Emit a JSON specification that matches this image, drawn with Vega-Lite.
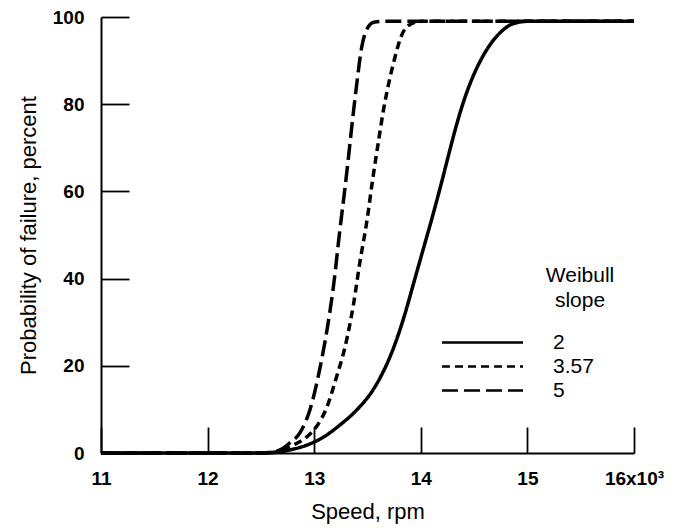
{
  "$schema": "https://vega.github.io/schema/vega-lite/v6.json",
  "width": 533,
  "height": 436,
  "autosize": {"type": "none"},
  "padding": {"left": 101, "top": 17, "right": 42, "bottom": 77},
  "background": "white",
  "config": {
    "view": {"stroke": null},
    "font": "Liberation Sans",
    "axis": {
      "grid": false,
      "domainColor": "black",
      "domainWidth": 2,
      "tickColor": "black",
      "tickWidth": 1.8,
      "labelColor": "black",
      "labelFont": "Liberation Sans",
      "labelFontSize": 19,
      "labelFontWeight": "bold",
      "labelFlush": false,
      "titleColor": "black",
      "titleFont": "Liberation Sans",
      "titleFontSize": 22,
      "titleFontWeight": "normal"
    }
  },
  "data": {
    "values": [
      {"speed": 11.0, "pct": 0, "slope": "2"},
      {"speed": 12.5, "pct": 0, "slope": "2"},
      {"speed": 12.6, "pct": 0.05, "slope": "2"},
      {"speed": 12.77, "pct": 0.7, "slope": "2"},
      {"speed": 12.93, "pct": 1.8, "slope": "2"},
      {"speed": 13.09, "pct": 3.7, "slope": "2"},
      {"speed": 13.24, "pct": 6.4, "slope": "2"},
      {"speed": 13.4, "pct": 9.9, "slope": "2"},
      {"speed": 13.55, "pct": 14.4, "slope": "2"},
      {"speed": 13.63, "pct": 17.8, "slope": "2"},
      {"speed": 13.71, "pct": 22.0, "slope": "2"},
      {"speed": 13.78, "pct": 26.5, "slope": "2"},
      {"speed": 13.85, "pct": 31.8, "slope": "2"},
      {"speed": 13.93, "pct": 38.7, "slope": "2"},
      {"speed": 14.02, "pct": 46.5, "slope": "2"},
      {"speed": 14.11, "pct": 54.3, "slope": "2"},
      {"speed": 14.19, "pct": 61.6, "slope": "2"},
      {"speed": 14.26, "pct": 68.3, "slope": "2"},
      {"speed": 14.33, "pct": 74.8, "slope": "2"},
      {"speed": 14.4, "pct": 80.5, "slope": "2"},
      {"speed": 14.48, "pct": 85.8, "slope": "2"},
      {"speed": 14.56, "pct": 90.0, "slope": "2"},
      {"speed": 14.64, "pct": 93.3, "slope": "2"},
      {"speed": 14.74, "pct": 96.3, "slope": "2"},
      {"speed": 14.87, "pct": 98.5, "slope": "2"},
      {"speed": 15.0, "pct": 99, "slope": "2"},
      {"speed": 16.0, "pct": 99, "slope": "2"},

      {"speed": 11.0, "pct": 0, "slope": "3.57"},
      {"speed": 12.5, "pct": 0, "slope": "3.57"},
      {"speed": 12.6, "pct": 0.1, "slope": "3.57"},
      {"speed": 12.7, "pct": 0.7, "slope": "3.57"},
      {"speed": 12.82, "pct": 2.0, "slope": "3.57"},
      {"speed": 12.93, "pct": 3.7, "slope": "3.57"},
      {"speed": 13.02, "pct": 6.0, "slope": "3.57"},
      {"speed": 13.12, "pct": 10.6, "slope": "3.57"},
      {"speed": 13.21, "pct": 17.5, "slope": "3.57"},
      {"speed": 13.29, "pct": 24.4, "slope": "3.57"},
      {"speed": 13.37, "pct": 34.3, "slope": "3.57"},
      {"speed": 13.43, "pct": 44.0, "slope": "3.57"},
      {"speed": 13.49, "pct": 52.5, "slope": "3.57"},
      {"speed": 13.55, "pct": 63.0, "slope": "3.57"},
      {"speed": 13.6, "pct": 71.0, "slope": "3.57"},
      {"speed": 13.65, "pct": 78.7, "slope": "3.57"},
      {"speed": 13.71, "pct": 86.0, "slope": "3.57"},
      {"speed": 13.76, "pct": 91.0, "slope": "3.57"},
      {"speed": 13.82, "pct": 95.8, "slope": "3.57"},
      {"speed": 13.9, "pct": 98.3, "slope": "3.57"},
      {"speed": 14.0, "pct": 99, "slope": "3.57"},
      {"speed": 16.0, "pct": 99, "slope": "3.57"},

      {"speed": 11.0, "pct": 0, "slope": "5"},
      {"speed": 12.5, "pct": 0, "slope": "5"},
      {"speed": 12.6, "pct": 0.2, "slope": "5"},
      {"speed": 12.7, "pct": 1.0, "slope": "5"},
      {"speed": 12.77, "pct": 2.3, "slope": "5"},
      {"speed": 12.87, "pct": 4.8, "slope": "5"},
      {"speed": 12.96, "pct": 9.9, "slope": "5"},
      {"speed": 13.05, "pct": 19.0, "slope": "5"},
      {"speed": 13.12, "pct": 28.2, "slope": "5"},
      {"speed": 13.18, "pct": 38.1, "slope": "5"},
      {"speed": 13.24, "pct": 51.0, "slope": "5"},
      {"speed": 13.28, "pct": 59.0, "slope": "5"},
      {"speed": 13.32, "pct": 67.5, "slope": "5"},
      {"speed": 13.36, "pct": 76.5, "slope": "5"},
      {"speed": 13.4, "pct": 84.8, "slope": "5"},
      {"speed": 13.445, "pct": 93.0, "slope": "5"},
      {"speed": 13.49, "pct": 97.0, "slope": "5"},
      {"speed": 13.56, "pct": 98.8, "slope": "5"},
      {"speed": 13.65, "pct": 99, "slope": "5"},
      {"speed": 16.0, "pct": 99, "slope": "5"}
    ]
  },
  "mark": {"type": "line", "color": "black", "strokeWidth": 3.5, "interpolate": "monotone", "clip": false},
  "encoding": {
    "x": {
      "field": "speed",
      "type": "quantitative",
      "scale": {"domain": [11, 16], "nice": false, "zero": false},
      "axis": {
        "values": [11, 12, 13, 14, 15, 16],
        "tickSize": -26,
        "labelPadding": 42,
        "labelExpr": "datum.value == 16 ? '16x10³' : datum.label",
        "title": "Speed, rpm",
        "titlePadding": 13
      }
    },
    "y": {
      "field": "pct",
      "type": "quantitative",
      "scale": {"domain": [0, 100], "nice": false},
      "axis": {
        "values": [0, 20, 40, 60, 80, 100],
        "tickSize": -28,
        "labelPadding": 45,
        "title": "Probability of failure, percent",
        "titlePadding": 12
      }
    },
    "strokeDash": {
      "field": "slope",
      "type": "nominal",
      "scale": {"domain": ["2", "3.57", "5"], "range": [[1, 0], [8, 5], [16, 6]]},
      "legend": {
        "orient": "none",
        "legendX": 371,
        "legendY": 248,
        "title": ["Weibull", "slope"],
        "titleFont": "Liberation Sans",
        "titleFontSize": 21,
        "titleFontWeight": "normal",
        "titleColor": "black",
        "titleAnchor": "middle",
        "titleAlign": "center",
        "titleLineHeight": 25,
        "titlePadding": 21,
        "titleLimit": 0,
        "symbolType": "M-4.5,0H4.5",
        "symbolSize": 324,
        "symbolStrokeWidth": 2.5,
        "symbolStrokeColor": "black",
        "symbolFillColor": "transparent",
        "labelFont": "Liberation Sans",
        "labelFontSize": 21,
        "labelColor": "black",
        "labelOffset": 60,
        "labelLimit": 0,
        "labelExpr": "datum.label + '                \u200b'",
        "rowPadding": 2,
        "padding": 0
      }
    }
  }
}
